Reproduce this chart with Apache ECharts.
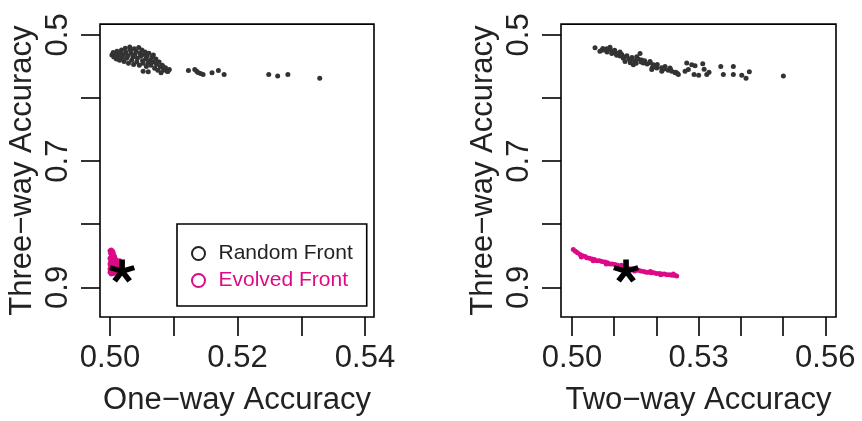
<!DOCTYPE html>
<html>
<head>
<meta charset="utf-8">
<script src="https://cdn.jsdelivr.net/npm/echarts@6/dist/echarts.min.js"></script>
<style>html,body{margin:0;padding:0;background:#fff}#c{width:862px;height:421px}</style>
</head>
<body>
<div id="c"></div>
<script>
// ---- data ----
const leftRandom = [
[0.5003,0.532],[0.5005,0.528],[0.5006,0.535],[0.5008,0.530],[0.5010,0.538],[0.5011,0.526],[0.5013,0.533],[0.5015,0.540],
[0.5016,0.529],[0.5018,0.524],[0.5019,0.536],[0.5021,0.531],[0.5022,0.542],[0.5024,0.521],[0.5025,0.527],[0.5026,0.537],
[0.5028,0.533],[0.5029,0.545],[0.5031,0.519],[0.5032,0.524],[0.5033,0.529],[0.5034,0.540],[0.5036,0.535],[0.5037,0.547],
[0.5038,0.522],[0.5039,0.531],[0.5041,0.526],[0.5042,0.543],[0.5043,0.537],[0.5045,0.520],[0.5046,0.548],[0.5047,0.529],
[0.5048,0.534],[0.5050,0.524],[0.5051,0.541],[0.5052,0.545],[0.5053,0.531],[0.5055,0.527],[0.5056,0.538],[0.5057,0.550],
[0.5058,0.534],[0.5060,0.544],[0.5061,0.529],[0.5063,0.540],[0.5064,0.548],[0.5066,0.535],[0.5068,0.543],[0.5070,0.553],
[0.5072,0.538],[0.5073,0.547],[0.5075,0.556],[0.5077,0.543],[0.5079,0.551],[0.5082,0.548],[0.5084,0.556],[0.5087,0.552],
[0.5090,0.558],[0.5093,0.555],[0.5052,0.5575],[0.5060,0.5585],[0.5080,0.560],[0.5068,0.532],[0.5065,0.5423],[0.5075,0.544],
[0.5083,0.550],[0.5091,0.5575],
[0.5123,0.5565],[0.5136,0.5576],[0.5138,0.5595],[0.5146,0.5626],[0.5160,0.5600],[0.5170,0.5565],[0.5179,0.5626],
[0.5133,0.5550],[0.5142,0.5610],
[0.5249,0.5626],[0.5263,0.5652],[0.5279,0.5626],[0.5329,0.5687]
];
const leftEvolved = [
[0.5000,0.842],[0.5002,0.841],[0.5004,0.843],[0.5001,0.846],[0.5003,0.847],[0.5005,0.845],[0.5006,0.849],[0.5002,0.851],
[0.5004,0.852],[0.5007,0.851],[0.5000,0.854],[0.5003,0.856],[0.5006,0.855],[0.5008,0.854],[0.5001,0.859],[0.5004,0.860],
[0.5007,0.858],[0.5009,0.857],[0.5000,0.863],[0.5002,0.864],[0.5005,0.863],[0.5008,0.862],[0.5010,0.861],[0.5001,0.867],
[0.5004,0.868],[0.5007,0.866],[0.5010,0.865],[0.5012,0.864],[0.5000,0.871],[0.5003,0.872],[0.5006,0.870],[0.5009,0.869],
[0.5012,0.868],[0.5001,0.875],[0.5004,0.876],[0.5007,0.874],[0.5010,0.873],[0.5002,0.879],[0.5005,0.878],[0.5008,0.877],
[0.5011,0.858],[0.5014,0.862],[0.5015,0.867],[0.5016,0.871],[0.5014,0.875],[0.5012,0.878],[0.5000,0.876],[0.5015,0.858]
];
const leftStar = [[0.5019,0.874]];

const rightRandom = [
[0.50545,0.5203],[0.50704,0.5244],[0.50822,0.5218],[0.5090,0.5194],[0.50941,0.5295],[0.51059,0.5321],[0.51137,0.527],
[0.51216,0.5371],[0.51256,0.5423],[0.51374,0.5397],[0.51453,0.5473],[0.51533,0.5347],[0.51611,0.5295],[0.51651,0.5397],
[0.5169,0.5447],[0.51848,0.5423],[0.51889,0.555],[0.51927,0.5473],[0.52007,0.5524],[0.52126,0.5576],[0.52204,0.5499],
[0.52322,0.5524],[0.52363,0.5576],[0.52441,0.560],[0.52519,0.5626],[0.52718,0.5447],[0.52756,0.555],[0.52678,0.5576],
[0.52836,0.5473],[0.52915,0.5489],[0.53097,0.5458],[0.52891,0.5626],[0.53192,0.5626],[0.53246,0.5591],[0.53524,0.5499],
[0.53585,0.5626],[0.53822,0.5499],[0.53822,0.5626],[0.54021,0.5641],[0.54123,0.5687],[0.54201,0.5585],[0.55007,0.5652],
[0.5078,0.5240],[0.5083,0.5270],[0.5087,0.5230],[0.5095,0.5255],[0.5098,0.5280],[0.5101,0.5245],[0.5105,0.5300],
[0.5110,0.5290],[0.5114,0.5335],[0.5118,0.5310],[0.5124,0.5355],[0.5130,0.5330],[0.5135,0.5380],[0.5142,0.5360],
[0.5148,0.5410],[0.5158,0.5385],[0.5164,0.5430],[0.5172,0.5410],[0.5178,0.5460],[0.5185,0.5440],[0.5195,0.5500],
[0.5202,0.5470],[0.5212,0.5520],[0.5218,0.5540],[0.5228,0.5560],[0.5233,0.5545],[0.5246,0.5590],[0.5250,0.5610],
[0.5138,0.5440],[0.5152,0.5450],[0.5190,0.5520],[0.5066,0.5260],[0.5073,0.5215],[0.5300,0.5640],[0.5313,0.5545]
];
const rightEvolved = [
[0.5003,0.840],[0.5008,0.843],[0.5013,0.845],[0.5019,0.848],[0.5025,0.850],[0.5031,0.851],[0.5035,0.853],[0.5041,0.854],
[0.5047,0.855],[0.5053,0.856],[0.5059,0.858],[0.5065,0.858],[0.5071,0.859],[0.5078,0.860],[0.5084,0.861],[0.5090,0.863],
[0.5096,0.863],[0.5102,0.864],[0.5108,0.865],[0.5114,0.867],[0.5120,0.868],[0.5126,0.869],[0.5133,0.870],[0.5139,0.871],
[0.5145,0.871],[0.5151,0.873],[0.5157,0.873],[0.5163,0.874],[0.5170,0.875],[0.5176,0.876],[0.5182,0.876],[0.5188,0.877],
[0.5194,0.877],[0.5200,0.878],[0.5207,0.878],[0.5213,0.879],[0.5219,0.879],[0.5225,0.880],[0.5231,0.880],[0.5237,0.881],
[0.5243,0.881],[0.5248,0.882],
[0.5022,0.852],[0.5050,0.858],[0.5081,0.863],[0.5117,0.865],[0.5148,0.874],[0.5186,0.875],[0.5210,0.880],[0.5240,0.879]
];
const rightStar = [[0.5128,0.874]];

const yTicks = [0.5,0.6,0.7,0.8,0.9];
const yLabels = [0.5,0.7,0.9];
const leftXTicks = [0.50,0.51,0.52,0.53,0.54];
const leftXLabels = [0.50,0.52,0.54];
const rightXTicks = [0.50,0.51,0.52,0.53,0.54,0.55,0.56];
const rightXLabels = [0.50,0.53,0.56];

const seriesNames = ['Random Front','Evolved Front'];
const xTitles = ['One\u2212way Accuracy','Two\u2212way Accuracy'];
const yTitle = 'Three\u2212way Accuracy';

// ---- styles ----
const GRAY = '#333333';
const MAG = '#DC0A87';
const FONT = 'Liberation Sans, Arial, Helvetica, sans-serif';
const STAR = 'path://M61,50L61,0L39,0L39,50Z M53.4,60.46L100.95,45.01L94.15,24.09L46.6,39.54Z M53.4,39.54L5.85,24.09L-0.95,45.01L46.6,60.46Z M41.1,43.53L11.7,83.98L29.5,96.92L58.9,56.47Z M41.1,56.47L70.5,96.92L88.3,83.98L58.9,43.53Z';

function xAxis(idx, min, max, ticks, labels, title){
  return {
    type:'value', gridIndex:idx, min:min, max:max,
    axisLine:{show:false}, splitLine:{show:false},
    axisTick:{show:true, length:19, customValues:ticks, lineStyle:{color:'#000', width:1.6}},
    axisLabel:{customValues:labels, margin:26, fontSize:31, fontFamily:FONT, color:'#222',
      formatter:v=>v.toFixed(2)},
    name:title, nameLocation:'middle', nameGap:68,
    nameTextStyle:{fontSize:31, fontFamily:FONT, color:'#222'}
  };
}
function yAxis(idx){
  return {
    type:'value', gridIndex:idx, min:0.483, max:0.947, inverse:true,
    axisLine:{show:false}, splitLine:{show:false},
    axisTick:{show:true, length:19, customValues:yTicks, lineStyle:{color:'#000', width:1.6}},
    axisLabel:{customValues:yLabels, rotate:90, margin:26, fontSize:31, fontFamily:FONT, color:'#222',
      formatter:v=>v.toFixed(1)},
    name:yTitle, nameLocation:'middle', nameGap:62,
    nameTextStyle:{fontSize:31, fontFamily:FONT, color:'#222'}
  };
}
function pts(name, idx, data, color){
  return {type:'scatter', name:name, xAxisIndex:idx, yAxisIndex:idx, data:data,
    symbol:'circle', symbolSize:5, itemStyle:{color:color, opacity:1}, silent:true, animation:false};
}
function star(idx, data){
  return {type:'scatter', name:'star', xAxisIndex:idx, yAxisIndex:idx, data:data, z:5,
    symbol:STAR, symbolSize:[26,23], itemStyle:{color:'#000', opacity:1}, silent:true, animation:false};
}

const chart = echarts.init(document.getElementById('c'), null, {renderer:'canvas'});
chart.setOption({
  animation:false,
  backgroundColor:'#fff',
  grid:[
    {left:100, top:13, width:274, height:304, show:true, borderColor:'#000', borderWidth:1.6},
    {left:561, top:13, width:275, height:304, show:true, borderColor:'#000', borderWidth:1.6}
  ],
  xAxis:[
    xAxis(0, 0.49843, 0.54141, leftXTicks, leftXLabels, xTitles[0]),
    xAxis(1, 0.49739, 0.56254, rightXTicks, rightXLabels, xTitles[1])
  ],
  yAxis:[yAxis(0), yAxis(1)],
  legend:{
    left:177, top:224, orient:'vertical', selectedMode:false,
    borderColor:'#000', borderWidth:1.6, borderRadius:0, backgroundColor:'#fff',
    padding:[19,14,15,14], itemGap:6, itemWidth:30, itemHeight:13, icon:'circle',
    textStyle:{fontSize:21, fontFamily:FONT},
    data:[
      {name:seriesNames[0], itemStyle:{color:'transparent', borderColor:'#222', borderWidth:2}, textStyle:{color:'#222'}},
      {name:seriesNames[1], itemStyle:{color:'transparent', borderColor:MAG, borderWidth:2}, textStyle:{color:MAG}}
    ]
  },
  series:[
    pts(seriesNames[0], 0, leftRandom, GRAY),
    pts(seriesNames[1], 0, leftEvolved, MAG),
    star(0, leftStar),
    pts(seriesNames[0], 1, rightRandom, GRAY),
    pts(seriesNames[1], 1, rightEvolved, MAG),
    star(1, rightStar)
  ]
});
</script>
</body>
</html>
